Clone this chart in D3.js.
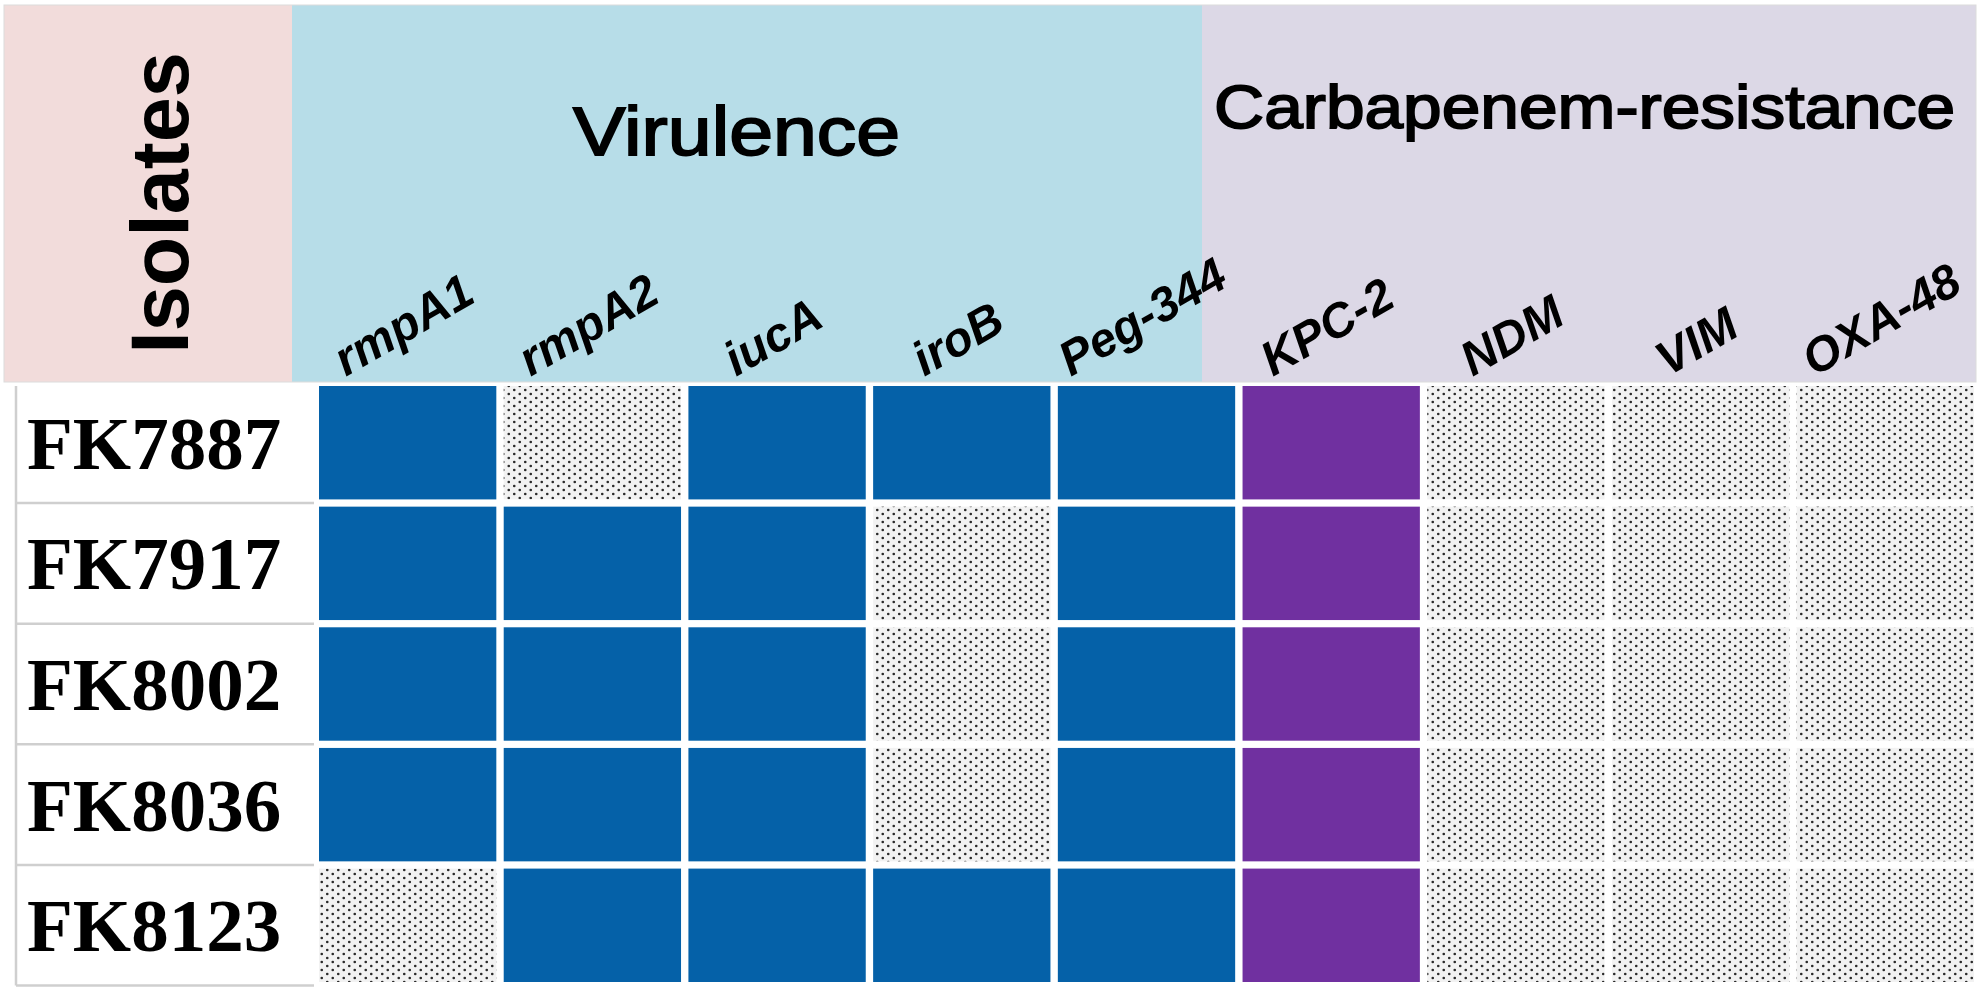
<!DOCTYPE html>
<html lang="en">
<head>
<meta charset="UTF-8" />
<script src="https://cdnjs.cloudflare.com/ajax/libs/d3/7.8.5/d3.min.js"></script>
<title>Virulence and carbapenem-resistance genes</title>
<style>
body { margin: 0; background: #fff; }
svg { display: block; }
</style>
</head>
<body>
<div id="chart"></div>
<script>

// data
const isolates = ['FK7887', 'FK7917', 'FK8002', 'FK8036', 'FK8123'];
const virulenceGenes = ['rmpA1', 'rmpA2', 'iucA', 'iroB', 'Peg-344'];
const resistanceGenes = ['KPC-2', 'NDM', 'VIM', 'OXA-48'];
// 1 = gene detected, 0 = not detected (one list per gene, in isolate order)
const rmpA1 = [1, 1, 1, 1, 0];
const rmpA2 = [0, 1, 1, 1, 1];
const iucA = [1, 1, 1, 1, 1];
const iroB = [1, 0, 0, 0, 1];
const peg344 = [1, 1, 1, 1, 1];
const kpc2 = [1, 1, 1, 1, 1];
const ndm = [0, 0, 0, 0, 0];
const vim = [0, 0, 0, 0, 0];
const oxa48 = [0, 0, 0, 0, 0];

const genes = virulenceGenes.concat(resistanceGenes);
const presence = [rmpA1, rmpA2, iucA, iroB, peg344, kpc2, ndm, vim, oxa48];

const width = 1983, height = 994;
const colors = {
  virulence: '#0561a8',
  resistance: '#7030a0',
  pink: '#f2dcdb',
  aqua: '#b7dde8',
  lilac: '#dcd8e6'
};
const sans = '"Liberation Sans", Arial, sans-serif';

const svg = d3.select('#chart').append('svg')
  .attr('width', width)
  .attr('height', height);

// dotted fill for "not detected"
const pat = svg.append('defs').append('pattern')
  .attr('id', 'dots')
  .attr('patternUnits', 'userSpaceOnUse')
  .attr('width', 11)
  .attr('height', 8);
pat.append('rect').attr('width', 11).attr('height', 8).attr('fill', '#f2f2f2');
pat.append('circle').attr('cx', 2.75).attr('cy', 2).attr('r', 1.3).attr('fill', '#2a2a2a');
pat.append('circle').attr('cx', 8.25).attr('cy', 6).attr('r', 1.3).attr('fill', '#2a2a2a');

const x = d3.scaleBand().domain(genes).range([319, 1974]).paddingInner(0.04);
const y = d3.scaleBand().domain(isolates).range([386, 982]).paddingInner(0.06);

// header backgrounds
const headTop = 5, headBottom = 382;
const header = svg.append('g').attr('class', 'header');
header.append('rect')
  .attr('x', 4).attr('y', headTop).attr('width', 288).attr('height', headBottom - headTop)
  .attr('fill', colors.pink);
header.append('rect')
  .attr('x', 292).attr('y', headTop).attr('width', 1202 - 292).attr('height', headBottom - headTop)
  .attr('fill', colors.aqua);
header.append('rect')
  .attr('x', 1202).attr('y', headTop).attr('width', 1976 - 1202).attr('height', headBottom - headTop)
  .attr('fill', colors.lilac);
header.append('rect')
  .attr('x', 4).attr('y', headTop).attr('width', 1972).attr('height', headBottom - headTop)
  .attr('fill', 'none').attr('stroke', '#dcdcdc').attr('stroke-width', 1);

header.append('text')
  .attr('transform', 'translate(188,203) rotate(-90)')
  .attr('text-anchor', 'middle')
  .style('font-family', sans)
  .style('font-weight', 'bold')
  .style('font-size', '81px')
  .text('Isolates');

header.append('text')
  .attr('x', 573).attr('y', 155)
  .attr('textLength', 327)
  .attr('lengthAdjust', 'spacingAndGlyphs')
  .style('font-family', sans)
  .style('font-size', '68px')
  .style('stroke', '#000')
  .style('stroke-width', 1.8)
  .text('Virulence');

header.append('text')
  .attr('x', 1214).attr('y', 128)
  .attr('textLength', 741)
  .attr('lengthAdjust', 'spacingAndGlyphs')
  .style('font-family', sans)
  .style('font-size', '62px')
  .style('stroke', '#000')
  .style('stroke-width', 1.8)
  .text('Carbapenem-resistance');

// slanted gene names, centred over their column, bottoms on one line
const angle = 30;
const rad = angle * Math.PI / 180;
header.selectAll('text.gene')
  .data(genes)
  .join('text')
  .attr('class', 'gene')
  .style('font-family', sans)
  .style('font-weight', 'bold')
  .style('font-style', 'italic')
  .style('font-size', '48px')
  .text(d => d)
  .attr('transform', function(d) {
    const len = this.getComputedTextLength();
    const cx = x(d) + x.bandwidth() / 2;
    const x0 = cx - len * Math.cos(rad) / 2 + 4;
    return `translate(${x0},377) rotate(${-angle})`;
  });

// isolate label column
const labels = svg.append('g').attr('class', 'labels');
const step = y.step();
const gap = step - y.bandwidth();
labels.selectAll('line.sep')
  .data(isolates)
  .join('line')
  .attr('class', 'sep')
  .attr('x1', 16).attr('x2', 314)
  .attr('y1', d => y(d) + y.bandwidth() + gap / 2)
  .attr('y2', d => y(d) + y.bandwidth() + gap / 2)
  .attr('stroke', '#cfcfcf').attr('stroke-width', 2.5);
labels.append('line')
  .attr('x1', 16).attr('x2', 16)
  .attr('y1', y(isolates[0])).attr('y2', y(isolates[isolates.length - 1]) + y.bandwidth() + gap / 2)
  .attr('stroke', '#cfcfcf').attr('stroke-width', 2.5);
labels.selectAll('text')
  .data(isolates)
  .join('text')
  .attr('x', 27)
  .attr('y', d => y(d) + y.bandwidth() / 2 + 26)
  .style('font-family', '"Liberation Serif", "Times New Roman", serif')
  .style('font-weight', 'bold')
  .style('font-size', '75px')
  .text(d => d);

// cells
const cells = [];
genes.forEach((g, gi) => {
  isolates.forEach((iso, ii) => {
    cells.push({ gene: g, isolate: iso, value: presence[gi][ii], group: gi < virulenceGenes.length ? 'virulence' : 'resistance' });
  });
});

svg.append('g').attr('class', 'cells')
  .selectAll('rect')
  .data(cells)
  .join('rect')
  .attr('x', d => x(d.gene))
  .attr('y', d => y(d.isolate))
  .attr('width', x.bandwidth())
  .attr('height', y.bandwidth())
  .attr('fill', d => d.value ? colors[d.group] : 'url(#dots)');

</script>
</body>
</html>
